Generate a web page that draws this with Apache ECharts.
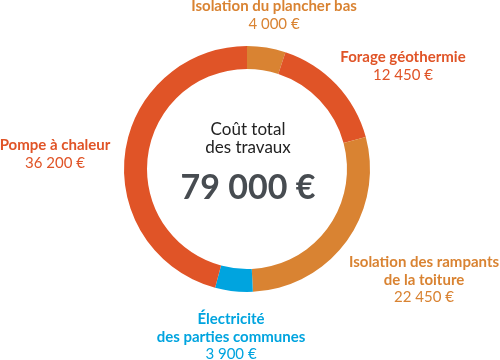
<!DOCTYPE html>
<html><head><meta charset="utf-8">
<script src="https://cdn.jsdelivr.net/npm/echarts@6/dist/echarts.min.js"></script>
<style>html,body{margin:0;padding:0;background:#fff}#c{width:500px;height:360px}</style>
</head><body><div id="c"></div>
<script>
var categories = ['Isolation du plancher bas', 'Forage géothermie', 'Isolation des rampants\nde la toiture', 'Électricité\ndes parties communes', 'Pompe à chaleur'];
var values = [4000, 12450, 22450, 3900, 36200];
var colors = ['#D98332', '#E05427', '#D98332', '#00A4DF', '#E05427'];
var centerTitle = 'Coût total\ndes travaux';
var totalText = '79 000 €';

function fmt(v) {
  return String(v).replace(/\B(?=(\d{3})+(?!\d))/g, ' ') + ' €';
}
var labelPos = [[274, 15], [403, 66], [424, 280], [231, 337], [55, 154]];
var FONT = 'Lato';
var chart = echarts.init(document.getElementById('c'));
chart.setOption({
  animation: false,
  series: [{
    type: 'pie',
    center: [247, 169],
    radius: [100, 123],
    startAngle: 90,
    clockwise: true,
    avoidLabelOverlap: false,
    data: categories.map(function (n, i) {
      return { name: n, value: values[i], itemStyle: { color: colors[i] } };
    }),
    label: {
      show: true,
      position: 'outside',
      color: 'inherit',
      fontFamily: FONT,
      fontSize: 15,
      lineHeight: 17.5,
      align: 'center',
      formatter: function (p) {
        return p.name.split('\n').map(function (s) { return '{n|' + s + '}'; }).join('\n') + '\n{v|' + fmt(p.value) + '}';
      },
      rich: {
        n: { fontFamily: FONT, fontSize: 15, fontWeight: 'bold', lineHeight: 17.5, color: 'inherit' },
        v: { fontFamily: FONT, fontSize: 15, fontWeight: 'normal', lineHeight: 17.5, color: 'inherit' }
      }
    },
    labelLine: { show: false },
    labelLayout: function (p) {
      var q = labelPos[p.dataIndex];
      return { x: q[0], y: q[1], align: 'center', verticalAlign: 'middle' };
    },
    emphasis: { disabled: true }
  }],
  graphic: [
    { type: 'text', style: { text: centerTitle, x: 248, y: 121, font: 'normal 17px ' + FONT, fill: '#222', textAlign: 'center', lineHeight: 18 } },
    { type: 'text', style: { text: totalText, x: 248, y: 188, font: 'bold 34px ' + FONT, fill: '#474c51', textAlign: 'center', textVerticalAlign: 'middle' } }
  ]
});
</script></body></html>
